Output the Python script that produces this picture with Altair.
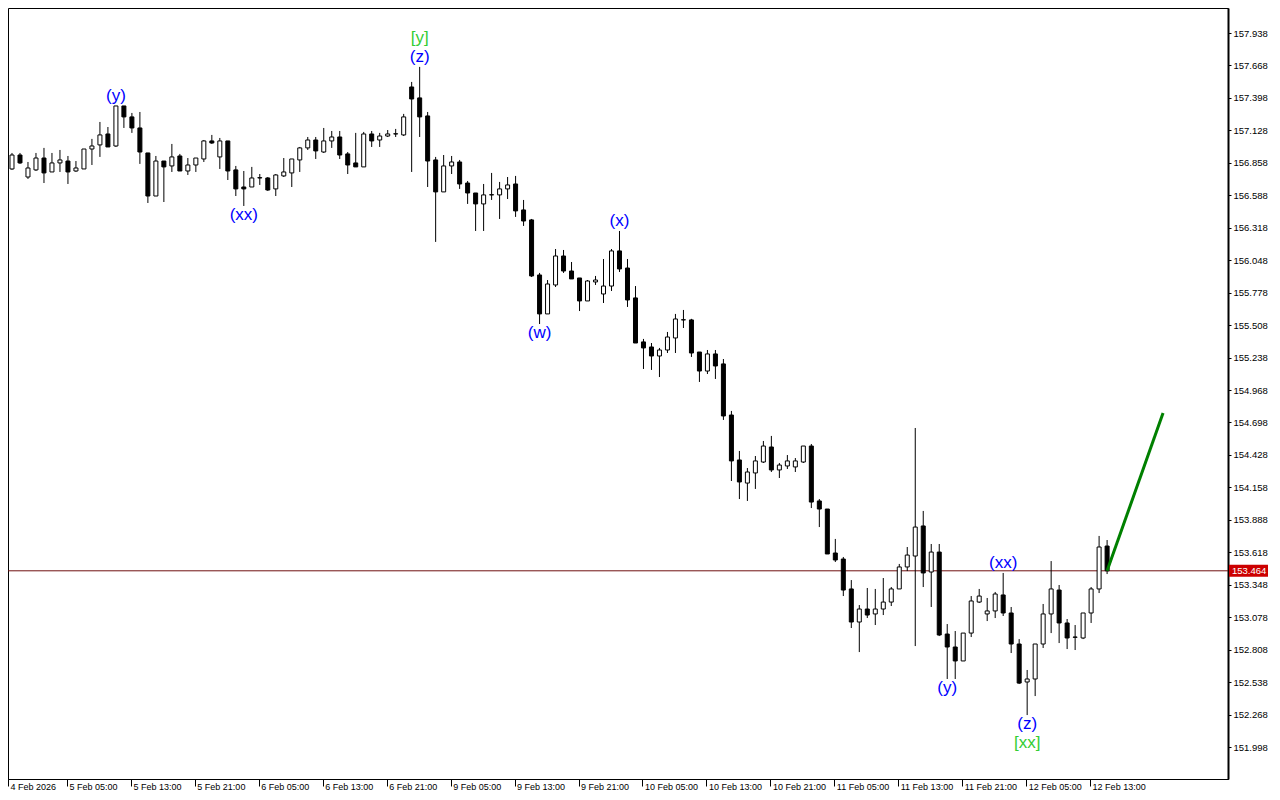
import altair as alt
import pandas as pd

# ---------------- data ----------------
opens = [156.774, 156.807, 156.923, 156.740, 156.799, 156.898, 156.782, 156.857, 156.873, 156.790,
         156.807, 156.973, 157.007, 157.098, 156.998, 157.331, 157.240, 157.148, 156.940, 156.582,
         156.873, 156.832, 156.915, 156.790, 156.840, 156.890, 157.040, 156.907, 157.040, 156.799,
         156.657, 156.657, 156.732, 156.732, 156.641, 156.749, 156.774, 156.882, 156.982, 157.048,
         156.948, 157.040, 157.073, 156.932, 156.857, 156.824, 157.098, 157.048, 157.081, 157.098,
         157.090, 157.489, 157.398, 157.248, 156.882, 156.616, 156.832, 156.865, 156.690, 156.607,
         156.516, 156.591, 156.591, 156.641, 156.682, 156.466, 156.383, 155.925, 155.601, 155.842,
         156.083, 155.958, 155.900, 155.709, 155.867, 155.767, 155.833, 156.125, 155.983, 155.734,
         155.368, 155.326, 155.251, 155.301, 155.401, 155.551, 155.551, 155.284, 155.126, 155.268,
         155.185, 154.760, 154.386, 154.194, 154.278, 154.369, 154.494, 154.303, 154.336, 154.328,
         154.369, 154.502, 154.045, 153.978, 153.612, 153.562, 153.313, 153.038, 153.146, 153.105,
         153.146, 153.204, 153.313, 153.496, 153.587, 153.837, 153.454, 153.620, 152.938, 152.830,
         152.714, 152.946, 153.204, 153.105, 153.130, 153.263, 153.113, 152.855, 152.539, 152.564,
         152.855, 153.105, 153.304, 153.030, 152.913, 152.905, 153.113, 153.313, 153.670]
highs = [156.832, 156.940, 156.940, 156.865, 156.940, 156.982, 156.940, 156.965, 156.915, 156.873,
         156.973, 157.057, 157.198, 157.156, 157.331, 157.331, 157.273, 157.281, 156.940, 156.915,
         156.873, 157.015, 156.932, 156.898, 156.898, 157.048, 157.090, 157.065, 157.040, 156.832,
         156.790, 156.824, 156.765, 156.740, 156.765, 156.898, 156.890, 156.990, 157.073, 157.073,
         157.148, 157.123, 157.123, 156.948, 157.107, 157.115, 157.123, 157.107, 157.131, 157.140,
         157.265, 157.531, 157.656, 157.281, 156.907, 156.923, 156.915, 156.882, 156.707, 156.607,
         156.682, 156.774, 156.699, 156.740, 156.749, 156.549, 156.391, 155.942, 155.883, 156.141,
         156.133, 156.033, 155.900, 155.883, 155.917, 156.058, 156.141, 156.291, 156.058, 155.833,
         155.393, 155.359, 155.318, 155.451, 155.601, 155.634, 155.560, 155.284, 155.301, 155.301,
         155.226, 154.794, 154.461, 154.319, 154.419, 154.544, 154.586, 154.361, 154.427, 154.402,
         154.502, 154.519, 154.061, 153.978, 153.729, 153.579, 153.387, 153.179, 153.321, 153.313,
         153.404, 153.329, 153.521, 153.662, 154.652, 153.962, 153.687, 153.687, 153.021, 152.963,
         152.946, 153.254, 153.313, 153.238, 153.288, 153.446, 153.163, 152.896, 152.639, 152.855,
         153.188, 153.545, 153.346, 153.063, 153.013, 153.113, 153.329, 153.754, 153.720]
lows = [156.765, 156.799, 156.849, 156.724, 156.790, 156.690, 156.782, 156.782, 156.682, 156.782,
        156.807, 156.840, 156.907, 156.990, 156.990, 157.148, 157.107, 156.849, 156.524, 156.582,
        156.532, 156.782, 156.790, 156.757, 156.782, 156.865, 157.015, 156.807, 156.715, 156.582,
        156.499, 156.657, 156.674, 156.624, 156.582, 156.740, 156.657, 156.782, 156.965, 156.890,
        156.940, 156.982, 156.890, 156.765, 156.824, 156.824, 156.990, 156.990, 157.073, 157.073,
        157.081, 156.782, 157.073, 156.657, 156.200, 156.616, 156.765, 156.641, 156.516, 156.291,
        156.291, 156.549, 156.391, 156.557, 156.408, 156.333, 155.908, 155.517, 155.601, 155.825,
        155.942, 155.892, 155.625, 155.709, 155.842, 155.692, 155.792, 155.950, 155.659, 155.359,
        155.143, 155.135, 155.076, 155.276, 155.276, 155.484, 155.243, 155.035, 155.101, 155.060,
        154.719, 154.211, 154.061, 154.045, 154.145, 154.361, 154.286, 154.236, 154.311, 154.286,
        154.361, 153.986, 153.828, 153.604, 153.537, 153.254, 152.988, 152.788, 153.071, 153.013,
        153.096, 153.171, 153.313, 153.462, 152.838, 153.329, 153.163, 152.921, 152.564, 152.564,
        152.714, 152.913, 153.196, 153.046, 153.071, 153.088, 152.780, 152.522, 152.264, 152.422,
        152.822, 152.946, 152.863, 152.813, 152.805, 152.896, 153.030, 153.279, 153.437]
closes = [156.815, 156.923, 156.857, 156.815, 156.898, 156.774, 156.857, 156.882, 156.782, 156.815,
          156.973, 156.998, 157.090, 156.990, 157.331, 157.240, 157.148, 156.948, 156.582, 156.873,
          156.824, 156.907, 156.790, 156.840, 156.898, 157.040, 157.023, 157.040, 156.790, 156.641,
          156.641, 156.732, 156.735, 156.632, 156.757, 156.782, 156.890, 156.982, 157.048, 156.957,
          157.040, 157.073, 156.923, 156.840, 156.824, 157.098, 157.040, 157.081, 157.098, 157.100,
          157.240, 157.389, 157.240, 156.873, 156.616, 156.832, 156.865, 156.682, 156.607, 156.516,
          156.591, 156.593, 156.641, 156.674, 156.458, 156.374, 155.917, 155.601, 155.850, 156.083,
          155.958, 155.892, 155.709, 155.875, 155.883, 155.833, 156.125, 155.975, 155.717, 155.359,
          155.318, 155.251, 155.301, 155.409, 155.559, 155.553, 155.276, 155.126, 155.268, 155.168,
          154.752, 154.378, 154.203, 154.286, 154.378, 154.502, 154.303, 154.344, 154.378, 154.378,
          154.502, 154.036, 153.978, 153.604, 153.554, 153.304, 153.038, 153.146, 153.096, 153.146,
          153.204, 153.313, 153.496, 153.595, 153.828, 153.446, 153.620, 152.930, 152.830, 152.714,
          152.946, 153.213, 153.254, 153.130, 153.271, 153.113, 152.855, 152.530, 152.564, 152.855,
          153.105, 153.313, 153.030, 152.905, 152.911, 153.113, 153.313, 153.662, 153.464]

time_labels = ["4 Feb 2026", "5 Feb 05:00", "5 Feb 13:00", "5 Feb 21:00", "6 Feb 05:00",
               "6 Feb 13:00", "6 Feb 21:00", "9 Feb 05:00", "9 Feb 13:00", "9 Feb 21:00",
               "10 Feb 05:00", "10 Feb 13:00", "10 Feb 21:00", "11 Feb 05:00", "11 Feb 13:00",
               "11 Feb 21:00", "12 Feb 05:00", "12 Feb 13:00"]
price_ticks = [151.998, 152.268, 152.538, 152.808, 153.078, 153.348, 153.618, 153.888,
               154.158, 154.428, 154.698, 154.968, 155.238, 155.508, 155.778, 156.048,
               156.318, 156.588, 156.858, 157.128, 157.398, 157.668, 157.938]

current_price = 153.464
proj_idx = [138, 145]
proj_price = [153.464, 154.777]

wave_idx = [14, 30, 52, 52, 67, 77, 118, 125, 128, 128]
wave_text = ["(y)", "(xx)", "[y]", "(z)", "(w)", "(x)", "(y)", "(xx)", "(z)", "[xx]"]
wave_degree = ["minor", "minor", "major", "minor", "minor", "minor", "minor", "minor", "minor", "major"]
wave_side = ["above", "below", "above", "above", "below", "above", "below", "above", "below", "below"]

# ---------------- tables ----------------
df = pd.DataFrame({"i": list(range(len(opens))), "open": opens, "high": highs,
                   "low": lows, "close": closes})
lab = pd.DataFrame({"i": wave_idx, "text": wave_text, "degree": wave_degree, "side": wave_side})
lab["anchor"] = [highs[i] if s == "above" else lows[i] for i, s in zip(wave_idx, wave_side)]
proj = pd.DataFrame({"i": proj_idx, "p": proj_price})
cur = pd.DataFrame({"p": [current_price], "lo": [current_price - 0.05],
                    "hi": [current_price + 0.05], "t": [f"{current_price:.3f}"]})

FONT = "Liberation Sans"
X0 = 0.5
xs = alt.Scale(domain=[X0, 153.125], nice=False, zero=False, padding=0)
ys = alt.Scale(domain=[151.732, 158.146], nice=False, zero=False, padding=0)

label_array = "[" + ",".join("'" + s + "'" for s in time_labels) + "]"
tick_vals = [X0] + [8 * k - 0.125 for k in range(1, len(time_labels))]
x_axis = alt.Axis(values=tick_vals,
                  labelExpr=label_array + "[round((datum.value + 0.125) / 8)]",
                  grid=False, tickSize=7, tickColor="black", domainColor="black",
                  labelAlign="left", labelBaseline="top", labelPadding=-4, labelOffset=2,
                  labelFont=FONT, labelFontSize=9, labelColor="black",
                  labelOverlap=False, labelFlush=False, labelBound=False, title=None)
y_axis = alt.Axis(orient="right", values=price_ticks, format=".3f", grid=False,
                  tickSize=3, tickColor="black", domainColor="black", domainWidth=2,
                  labelPadding=2, labelFont=FONT, labelFontSize=9.5, labelColor="black",
                  labelOverlap=False, labelFlush=False, title=None)

X = lambda f: alt.X(f, scale=xs, axis=x_axis)
Y = lambda f: alt.Y(f, scale=ys, axis=y_axis)

base = alt.Chart(df)

wicks = base.mark_rule(color="black", strokeWidth=1).encode(
    x=X("i:Q"), y=Y("low:Q"), y2="high:Q",
)
bodies = base.mark_bar(width=4, stroke="black", strokeWidth=1).encode(
    x=X("i:Q"), y=Y("open:Q"), y2="close:Q",
    fill=alt.condition("datum.close > datum.open", alt.value("white"), alt.value("black")),
)
price_line = alt.Chart(cur).mark_rule(color="#701010", strokeWidth=1).encode(
    y=Y("p:Q")
)
proj_line = alt.Chart(proj).mark_line(color="#008000", strokeWidth=3).encode(
    x=X("i:Q"), y=Y("p:Q"),
)

label_layers = []
for side, deg, dy in [("above", "minor", -10), ("above", "major", -29),
                      ("below", "minor", 9), ("below", "major", 28)]:
    sub = lab[(lab.side == side) & (lab.degree == deg)]
    color = "#0000ff" if deg == "minor" else "#33cc33"
    label_layers.append(
        alt.Chart(sub).mark_text(dy=dy, font=FONT, fontSize=17, baseline="middle",
                                 align="center", color=color).encode(
            x=X("i:Q"), y=Y("anchor:Q"), text="text:N",
        )
    )

price_box = alt.Chart(cur).mark_rect(color="#cc0000").encode(
    y=Y("lo:Q"), y2="hi:Q",
    x=alt.value(1221), x2=alt.value(1260),
)
price_text = alt.Chart(cur).mark_text(align="left", baseline="middle", color="white",
                                       font=FONT, fontSize=9.5).encode(
    y=Y("p:Q"), x=alt.value(1224), text="t:N"
)

chart = alt.layer(price_line, wicks, bodies, proj_line, *label_layers, price_box, price_text).properties(
    width=1220, height=771,
    autosize=alt.AutoSizeParams(type="none"),
    padding={"left": 0, "top": 0, "right": 44, "bottom": 13},
    background="white",
).configure_view(stroke="black", strokeWidth=1)

chart.save("out.html", embed_options={"renderer": "svg", "actions": False})
